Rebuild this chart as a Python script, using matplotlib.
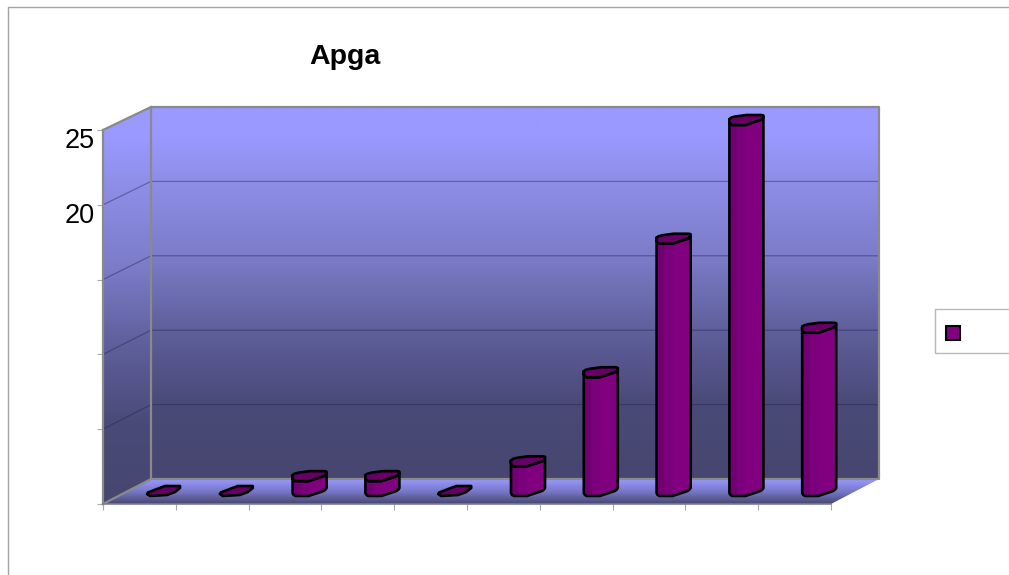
import matplotlib
matplotlib.use('Agg')
import numpy as np
import matplotlib.pyplot as plt
from matplotlib.colors import LinearSegmentedColormap
from matplotlib.patches import Polygon, Rectangle
from matplotlib.transforms import Affine2D, Bbox

plt.rcParams['font.family'] = ['Liberation Sans', 'DejaVu Sans']

CATEGORIES = list(range(10))
VALUES = [0, 0, 1, 1, 0, 2, 8, 17, 25, 11]
Y_TICKS = [0, 5, 10, 15, 20, 25]
Y_LABELS = ['', '', '', '', '20', '25']
TITLE = 'Apgar'

W, H = 1009, 575
LEFT, FRONT_Y, AX_W, AX_H = 103, 504, 728, 374
PX_X = AX_W / 10
PX_Y = AX_H / 25

# oblique offsets, in pixels, of the back wall and the bar row
WALL_DX, WALL_DY = 48, 25
WALL_SCALE = 372 / 374
BAR_DX, BAR_DY = 44, 8
BAR_SCALE = 371 / 374

# outline of a bar's cross-section, in pixels from its front left corner
FRONT_EDGE = [(0, 6), (0, 3), (1, 1), (3, 0), (16, 0), (31, 5), (33, 6.5), (34, 8)]
BACK_EDGE = [(34, 9.5), (32, 10), (17, 10), (6, 8.5), (2, 7.5)]
# empty categories collapse to a flatter sliver
EMPTY_OUTLINE = [(0, 2), (3, 0), (20, 1), (28, 4), (33, 8), (33, 10), (18, 10), (10, 7), (1, 3.5)]

GREY = '#8a8a8a'
WALL_CMAP = LinearSegmentedColormap.from_list(
    'wall', [(0, '#464670'), (0.2, '#4a4a78'), (0.4, '#5f5f9c'), (0.6, '#7c7cc9'),
             (0.8, '#8e8ee8'), (0.92, '#9999ff'), (1, '#9999ff')])
FLOOR_CMAP = LinearSegmentedColormap.from_list('floor', ['#47476f', '#7777c8', '#9999ff'])


def shift(cat, val, dx=0, dy=0):
    return cat + dx / PX_X, val + dy / PX_Y


def wall(cat, val):
    return shift(cat, val * WALL_SCALE, WALL_DX, WALL_DY)


def gradient(ax, cmap, y0, y1, outline):
    ramp = np.linspace(1, 0, 256).reshape(-1, 1)
    im = ax.imshow(ramp, cmap=cmap, vmin=0, vmax=1, aspect='auto', zorder=0,
                   extent=(-1, 12, y0, y1), interpolation='bilinear')
    im.set_clip_box(ax.figure.bbox)
    im.set_clip_path(Polygon(outline, transform=ax.transData))


def draw_walls(ax):
    back = [wall(0, 0), wall(10, 0), wall(10, 25), wall(0, 25)]
    side = [shift(0, 0), wall(0, 0), wall(0, 25), shift(0, 25)]
    floor = [shift(0, 0), shift(10, 0), wall(10, 0), wall(0, 0)]
    gradient(ax, WALL_CMAP, back[0][1], back[2][1], back)
    gradient(ax, WALL_CMAP, 0, back[2][1], side)
    gradient(ax, FLOOR_CMAP, 0, back[0][1], floor)

    for val in Y_TICKS[1:-1]:
        ax.plot(*zip(shift(0, val), wall(0, val), wall(10, val)),
                color='#24244e', alpha=0.42, lw=0.9, zorder=1, clip_on=False)

    ax.plot(*zip(wall(0, 0), wall(0, 25), wall(10, 25), wall(10, 0), wall(0, 0), shift(0, 0)),
            color=GREY, lw=1.6, zorder=1, clip_on=False)
    ax.plot(*zip(shift(0, 25), wall(0, 25)), color=GREY, lw=1.6, zorder=1, clip_on=False)


def draw_bar(ax, cat, val):
    px_h = val * PX_Y * BAR_SCALE

    def point(p, lift):
        return shift(cat, 0, BAR_DX + p[0], BAR_DY + p[1] + lift)

    if val == 0:
        ax.add_patch(Polygon([point(p, 0) for p in EMPTY_OUTLINE], closed=True, fc='#660066',
                             ec='black', lw=1.9, joinstyle='round', zorder=5, clip_on=False))
        return

    body = [point(p, 0) for p in FRONT_EDGE] + [point(p, px_h) for p in reversed(FRONT_EDGE)]
    face = Polygon(body, closed=True, fc='#800080', ec='none', zorder=3, clip_on=False)
    ax.add_patch(face)
    # slightly darker facets down the left side
    for offset, width, color in [(0, 8, '#730073'), (8, 8, '#7b007b')]:
        x, y = point((offset, 0), 0)
        band = Rectangle((x, y), width / PX_X, (px_h + 10) / PX_Y, fc=color, ec='none', zorder=3)
        ax.add_patch(band)
        band.set_clip_box(ax.figure.bbox)
        band.set_clip_path(face)
    ax.add_patch(Polygon(body, closed=True, fc='none', ec='black', lw=1.9,
                         joinstyle='round', zorder=4, clip_on=False))

    top = [point(p, px_h) for p in FRONT_EDGE + BACK_EDGE]
    ax.add_patch(Polygon(top, closed=True, fc='#660066', ec='black', lw=1.9,
                         joinstyle='round', zorder=5, clip_on=False))


fig = plt.figure(figsize=(W / 100, H / 100), dpi=100, facecolor='white')
ax = fig.add_axes([LEFT / W, (H - FRONT_Y) / H, AX_W / W, AX_H / H])
ax.patch.set_visible(False)

draw_walls(ax)
for cat, val in zip(CATEGORIES, VALUES):
    draw_bar(ax, cat, val)

ax.set_xlim(0, 10)
ax.set_ylim(0, 25)
ax.tick_params(axis='both', length=4.3, width=0.8, color='#a8a8a8', pad=1.5)
ax.set_xticks(range(11), labels=[''] * 11)
ax.set_yticks(Y_TICKS, labels=Y_LABELS, fontsize=19.5, va='top')
for label in ax.get_yticklabels():
    label.set_transform(label.get_transform() + Affine2D().translate(0, 2))
ax.spines[['top', 'right']].set_visible(False)
ax.spines['left'].set_color(GREY)
ax.spines['left'].set_linewidth(1.6)
ax.spines['bottom'].set_color('#7c7c94')
ax.spines['bottom'].set_linewidth(1.2)

# outer chart frame, open on the right and at the bottom
fig.add_artist(plt.Line2D([8 / W, 8 / W, 1], [0, 1 - 7 / H, 1 - 7 / H], color='#a4a4a4', lw=1))

title = fig.text(309 / W, 1 - 64 / H, TITLE, fontsize=20.5, fontweight='bold', ha='left', va='baseline')
title.set_clip_box(Bbox([[0, 0], [381, H]]))
title.set_clip_on(True)

# legend box with its swatch; the entry has no text
fig.add_artist(Rectangle((935 / W, 1 - 353 / H), 80 / W, 44 / H, transform=fig.transFigure,
                         fc='white', ec='#b8b8b8', lw=1))
fig.add_artist(Rectangle((947 / W, 1 - 341 / H), 14 / W, 14 / H, transform=fig.transFigure,
                         fc='#c050c0', ec='none'))
fig.add_artist(Rectangle((946 / W, 1 - 340 / H), 14 / W, 14 / H, transform=fig.transFigure,
                         fc='#800080', ec='black', lw=1.5))

fig.savefig('out.png', dpi=100)
plt.close(fig)
